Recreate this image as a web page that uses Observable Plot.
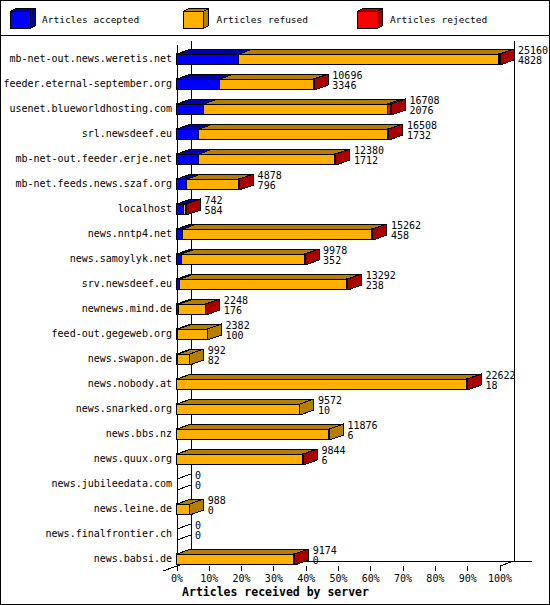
<!DOCTYPE html>
<html><head><meta charset="utf-8">
<script src="https://cdn.jsdelivr.net/npm/d3@7"></script>
<script src="https://cdn.jsdelivr.net/npm/@observablehq/plot@0.6"></script>
<style>
body{margin:0;background:#fff}
#wrap{position:relative;width:550px;height:605px;overflow:hidden;background:#fff}
#legend{position:absolute;left:0;top:0}
#chart{position:absolute;left:0;top:36px}
#sep{position:absolute;left:0;top:35px;width:550px;height:1px;background:#000}
#frame{position:absolute;left:0;top:0;width:550px;height:605px;border:1px solid #000;box-sizing:border-box;pointer-events:none}
</style></head>
<body>
<div id="wrap"><div id="legend"></div><div id="sep"></div><div id="chart"></div><div id="frame"></div></div>
<script>
// ---- data ----
const hosts = [
  "mb-net-out.news.weretis.net","feeder.eternal-september.org","usenet.blueworldhosting.com",
  "srl.newsdeef.eu","mb-net-out.feeder.erje.net","mb-net.feeds.news.szaf.org","localhost",
  "news.nntp4.net","news.samoylyk.net","srv.newsdeef.eu","newnews.mind.de","feed-out.gegeweb.org",
  "news.swapon.de","news.nobody.at","news.snarked.org","news.bbs.nz","news.quux.org",
  "news.jubileedata.com","news.leine.de","news.finalfrontier.ch","news.babsi.de"
];
const totals   = [25160,10696,16708,16508,12380,4878,742,15262,9978,13292,2248,2382,992,22622,9572,11876,9844,0,988,0,9174];
const accepted = [4828,3346,2076,1732,1712,796,584,458,352,238,176,100,82,18,10,6,6,0,0,0,0];
const rejected = [50,40,300,50,40,30,18,40,30,40,20,0,0,40,0,0,30,0,0,0,30];
const refused  = totals.map((t,i)=>t-accepted[i]-rejected[i]);
const xTicks = [0,10,20,30,40,50,60,70,80,90,100];
const seriesNames = ["Articles accepted","Articles refused","Articles rejected"];
const frontColors = ["#0000ff","#ffb000","#ff0000"];
const darkColors  = ["#0000a8","#b47e00","#aa0000"];
const axisTitle = "Articles received by server";

// ---- geometry (pixel depth converted to data units) ----
const ROW = 25, XSPAN = 323, DXpx = 14, DYpx = 5;
const dxp = DXpx*100/XSPAN, dyr = DYpx/ROW;
const TOP = -5/ROW, BOT = 6/ROW;
const last = hosts.length-1;
const floorFront = last + 7/ROW, floorBack = floorFront - dyr;
const frontTop = -14/ROW, backTop = -18/ROW;

const maxT = d3.max(totals);
const pct = v => v/maxT*100;
const rows = hosts.map((h,i)=>({h,i,total:totals[i],acc:accepted[i]}));
const segs = [];
hosts.forEach((h,i)=>{
  let cum=0;
  [accepted,refused,rejected].forEach((arr,k)=>{
    const v=arr[i];
    if(v>0) segs.push({i,k,x1:pct(cum),x2:pct(cum+v)});
    cum+=v;
  });
});
const lastSegs = hosts.map((h,i)=>segs.filter(s=>s.i===i).pop()).filter(Boolean);
const topPts = segs.flatMap((s,j)=>{const y=s.i+TOP; return [
  {id:j,k:s.k,x:s.x1,y},{id:j,k:s.k,x:s.x2,y},
  {id:j,k:s.k,x:s.x2+dxp,y:y-dyr},{id:j,k:s.k,x:s.x1+dxp,y:y-dyr}];});
const sidePts = lastSegs.flatMap((s,j)=>{const y1=s.i+TOP,y2=s.i+BOT; return [
  {id:j,k:s.k,x:s.x2,y:y1},{id:j,k:s.k,x:s.x2+dxp,y:y1-dyr},
  {id:j,k:s.k,x:s.x2+dxp,y:y2-dyr},{id:j,k:s.k,x:s.x2,y:y2}];});
const zeroEdges = rows.filter(r=>r.total===0).flatMap(r=>[{y:r.i+TOP},{y:r.i+BOT}]);

const L = {stroke:"black", strokeWidth:1, shapeRendering:"crispEdges"};
const marks = [
  Plot.ruleX([dxp], {y1:backTop, y2:floorBack, ...L}),
  Plot.ruleX([100+dxp], {y1:backTop, y2:floorBack, ...L}),
  Plot.ruleY([floorBack], {x1:dxp, x2:110, ...L}),
  Plot.link([0], {x1:100, y1:floorFront, x2:100+dxp, y2:floorBack, ...L}),
  Plot.link([0], {x1:-dxp, y1:floorFront+dyr, x2:dxp, y2:floorBack, ...L}),
  Plot.ruleX([0], {y1:frontTop, y2:floorFront+dyr, ...L}),
  Plot.ruleX(xTicks, {x:d=>d, y1:floorFront, y2:floorFront+dyr, ...L}),
  Plot.link(zeroEdges, {x1:0, y1:"y", x2:dxp, y2:d=>d.y-dyr, ...L})
];
[0,1,2].forEach(k=>{
  marks.push(Plot.rect(segs.filter(s=>s.k===k), {x1:"x1", x2:"x2", y1:d=>d.i+TOP, y2:d=>d.i+BOT, fill:frontColors[k], ...L}));
  marks.push(Plot.line(topPts.filter(p=>p.k===k), {x:"x", y:"y", z:"id", curve:"linear-closed", fill:darkColors[k], ...L}));
});
[0,1,2].forEach(k=>{
  marks.push(Plot.line(sidePts.filter(p=>p.k===k), {x:"x", y:"y", z:"id", curve:"linear-closed", fill:darkColors[k], ...L}));
});
marks.push(
  Plot.text(rows, {x:0, y:"i", dx:-5, text:"h", textAnchor:"end", fontSize:10, fill:"black"}),
  Plot.text(rows, {x:d=>pct(d.total), y:"i", dx:DXpx+4, dy:-8.5, text:d=>String(d.total), textAnchor:"start", fontSize:10, fill:"black"}),
  Plot.text(rows, {x:d=>pct(d.total), y:"i", dx:DXpx+4, dy:1.5, text:d=>String(d.acc), textAnchor:"start", fontSize:10, fill:"black"}),
  Plot.text(xTicks, {x:d=>d, y:last, dy:19.5, text:d=>d+"%", fontSize:10, fill:"black"}),
  Plot.text([axisTitle], {frameAnchor:"bottom", lineAnchor:"middle", dy:-13.3, text:d=>d, fontSize:11.5, fontWeight:"bold", fill:"black"})
);

const chart = Plot.plot({
  width:550, height:569, margin:0,
  x:{domain:[0,100], range:[176.5,499.5], axis:null},
  y:{domain:[0,last], range:[22.5,22.5+ROW*last], axis:null},
  style:{fontFamily:"DejaVu Sans Mono", fontSize:"10px", background:"white", color:"black", overflow:"visible"},
  marks
});
document.getElementById("chart").append(chart);

// ---- legend ----
const lg = d3.select("#legend").append("svg").attr("width",550).attr("height",35);
const lx = [10.5,183.5,357.5], tx = [42,216.5,390];
seriesNames.forEach((name,k)=>{
  const x=lx[k], g=lg.append("g").attr("shape-rendering","crispEdges").attr("stroke","black").attr("stroke-width",1);
  g.append("polygon").attr("points",`${x},11.5 ${x+5},8.5 ${x+25},8.5 ${x+20},11.5`).attr("fill",darkColors[k]);
  g.append("polygon").attr("points",`${x+20},11.5 ${x+25},8.5 ${x+25},25.5 ${x+20},28.5`).attr("fill",darkColors[k]);
  g.append("rect").attr("x",x).attr("y",11.5).attr("width",20).attr("height",17).attr("fill",frontColors[k]);
  lg.append("text").attr("x",tx[k]).attr("y",20).attr("dy","0.35em")
    .attr("font-family","DejaVu Sans Mono").attr("font-size","9.5px").attr("fill","black").text(name);
});
</script>
</body></html>
